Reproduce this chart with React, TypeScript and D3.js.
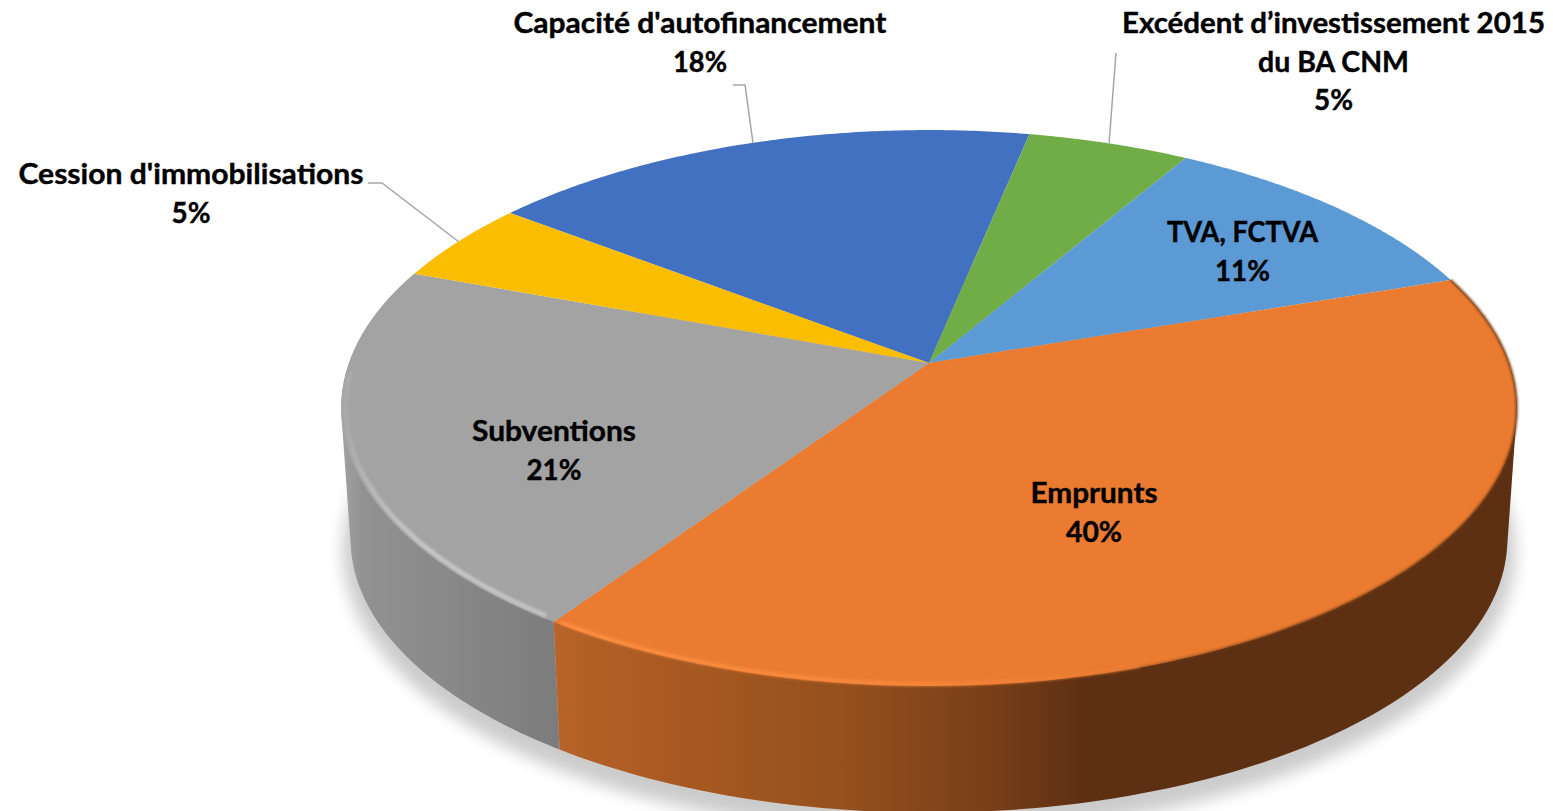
import React from "react";
import * as d3 from "d3";

// ---- data ----
const categories = ["Capacité d'autofinancement", "Excédent d’investissement 2015", "TVA, FCTVA", "Emprunts", "Subventions", "Cession d'immobilisations"];
const shares = [17.8, 5.2, 11.35, 39.7, 21.2, 4.75];
const sliceColors = ["#4371C1", "#70AD47", "#5B9AD5", "#EA7B31", "#A3A3A3", "#FBBD00"];

// ---- projection of the tilted disc ----
const W = 1553, H = 811;
const X0 = 929, Y0 = 363, A = 580, B = 270.7, P = 0.162;
const SHRINK = 0.984, VY = 8600;
const START = (-52.5 * Math.PI) / 180;

const topPt = (a: number, r = 1): [number, number] => {
  const u = Math.sin(a) * r, v = Math.cos(a) * r, d = 1 + P * v;
  return [X0 + (A * u) / d, Y0 - (B * v) / d];
};
const lowPt = (a: number): [number, number] => {
  const [x, y] = topPt(a);
  return [X0 + SHRINK * (x - X0), VY + SHRINK * (y - VY)];
};
const sample = (a0: number, a1: number, n = 120) => d3.range(n + 1).map((i) => a0 + ((a1 - a0) * i) / n);
const line = d3.line<[number, number]>();

const arcs = d3.pie<number>().sort(null).startAngle(START).endAngle(START + 2 * Math.PI)(shares);
const TAU = 2 * Math.PI;
const emprunts = arcs[3];
const subventions = arcs[4];
const wall = (a0: number, a1: number) => {
  const hull = d3.polygonHull([...sample(a0, a1).map((a) => topPt(a)), ...sample(a0, a1).map((a) => lowPt(a))]);
  return line(hull as [number, number][]) + "Z";
};
const faces = arcs.map((d) => line([[X0, Y0], ...sample(d.startAngle, d.endAngle).map((a) => topPt(a))]) + "Z");
const shadowPath = line(sample(0, TAU, 240).map((a) => lowPt(a))) + "Z";

// ---- labels ----
const FONT = "Lato, sans-serif";
type Lab = { lines: string[]; x: number; y: number; widths: number[] };
const labels: Lab[] = [
  { lines: ["Capacité d'autofinancement", "18%"], x: 700, y: 33, widths: [373, 54] },
  { lines: ["Excédent d’investissement 2015", "du BA CNM", "5%"], x: 1333.5, y: 33, widths: [423, 151, 39] },
  { lines: ["TVA, FCTVA", "11%"], x: 1242.5, y: 242, widths: [151, 55] },
  { lines: ["Emprunts", "40%"], x: 1094, y: 503, widths: [127, 56] },
  { lines: ["Subventions", "21%"], x: 554, y: 441, widths: [164, 55] },
  { lines: ["Cession d'immobilisations", "5%"], x: 191, y: 184, widths: [345, 39] },
];
const LINE_GAP = 38.7;

const midAngle = (i: number) => (arcs[i].startAngle + arcs[i].endAngle) / 2;
const leaders: [number, number][][] = [
  [[733, 85], [745, 85], topPt(midAngle(0))],
  [[1116, 53], topPt(midAngle(1))],
  [[368, 183], [382, 183], topPt(midAngle(5))],
];

export default function App() {
  return (
    <svg width={W} height={H} viewBox={`0 0 ${W} ${H}`} style={{ position: "absolute", left: 0, top: 0, display: "block", background: "#fff" }}>
      <defs>
        <filter id="shadow" filterUnits="userSpaceOnUse" x="200" y="200" width="1353" height="800"><feGaussianBlur stdDeviation="8" /></filter>
        <filter id="soft" filterUnits="userSpaceOnUse" x="200" y="100" width="1353" height="711"><feGaussianBlur stdDeviation="1.8" /></filter>
        <filter id="edge" filterUnits="userSpaceOnUse" x="200" y="100" width="1353" height="711"><feGaussianBlur stdDeviation="0.9" /></filter>
        <linearGradient id="wallOrange" gradientUnits="userSpaceOnUse" x1="552" x2="1515" y1="0" y2="0">
          <stop offset="0" stopColor="#B7632A" />
          <stop offset="0.1" stopColor="#AC5B22" />
          <stop offset="0.3" stopColor="#95501D" />
          <stop offset="0.45" stopColor="#7A3F18" />
          <stop offset="0.55" stopColor="#5E3013" />
          <stop offset="1" stopColor="#5E3013" />
        </linearGradient>
        <linearGradient id="wallGrey" gradientUnits="userSpaceOnUse" x1="341" x2="560" y1="0" y2="0">
          <stop offset="0" stopColor="#A2A2A2" />
          <stop offset="0.1" stopColor="#929292" />
          <stop offset="0.5" stopColor="#888888" />
          <stop offset="1" stopColor="#7C7C7C" />
        </linearGradient>
        <linearGradient id="rimGrey" gradientUnits="userSpaceOnUse" x1="341" x2="552" y1="0" y2="0">
          <stop offset="0" stopColor="#A8A8A8" />
          <stop offset="0.15" stopColor="#BEBEBE" />
          <stop offset="0.4" stopColor="#CDCDCD" />
          <stop offset="1" stopColor="#C6C6C6" />
        </linearGradient>
        <linearGradient id="rimOrange" gradientUnits="userSpaceOnUse" x1="552" x2="1150" y1="0" y2="0">
          <stop offset="0" stopColor="#FF9247" />
          <stop offset="0.55" stopColor="#F98A3C" />
          <stop offset="1" stopColor="#EA7B31" />
        </linearGradient>
        <linearGradient id="rimDark" gradientUnits="userSpaceOnUse" x1="1000" x2="1300" y1="0" y2="0">
          <stop offset="0" stopColor="#6E3A16" stopOpacity="0" />
          <stop offset="1" stopColor="#6E3A16" stopOpacity="0.9" />
        </linearGradient>
      </defs>

      <path d={shadowPath} fill="#000" stroke="#000" strokeWidth={16} opacity={0.2} filter="url(#shadow)" transform="translate(0,12)" />

      <path d={wall(subventions.startAngle, subventions.endAngle)} fill="url(#wallGrey)" />
      <path d={wall(emprunts.startAngle, emprunts.endAngle)} fill="url(#wallOrange)" />

      {faces.map((d, i) => <path key={i} d={d} fill={sliceColors[i]} />)}

      {/* bevel along the rim */}
      <path d={line(sample(Math.PI * 0.95, emprunts.startAngle, 200).map((a) => topPt(a))) || ""} fill="none" stroke="url(#rimDark)" strokeWidth={2.2} filter="url(#edge)" />
      <path d={line(sample(subventions.startAngle + 0.02, (268 * Math.PI) / 180).map((a) => topPt(a, 0.993))) || ""} fill="none" stroke="url(#rimGrey)" strokeWidth={4} filter="url(#soft)" />
      <path d={line(sample(Math.PI * 0.9, emprunts.endAngle - 0.01).map((a) => topPt(a, 0.995))) || ""} fill="none" stroke="url(#rimOrange)" strokeWidth={3.5} filter="url(#soft)" />

      {leaders.map((pts, i) => <path key={i} d={line(pts) || ""} fill="none" stroke="#A6A6A6" strokeWidth={1.5} />)}

      {labels.map((l, i) => (
        <text key={i} textAnchor="middle" fontFamily={FONT} fontWeight={700} fontSize={28} fill="#000" stroke="#000" strokeWidth={0.4}>
          {l.lines.map((t, j) => (
            <tspan key={j} x={l.x} y={l.y + j * LINE_GAP} textLength={l.widths[j]} lengthAdjust="spacingAndGlyphs">{t}</tspan>
          ))}
        </text>
      ))}
    </svg>
  );
}
